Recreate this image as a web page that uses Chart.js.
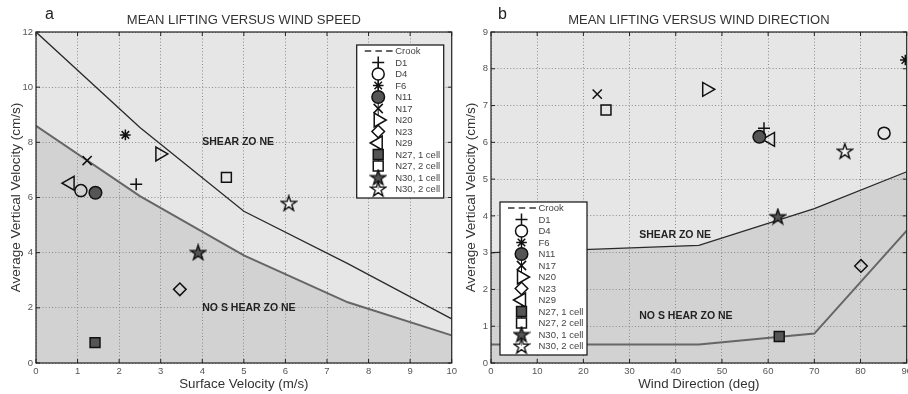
<!DOCTYPE html>
<html>
<head>
<meta charset="utf-8">
<script src="https://cdn.jsdelivr.net/npm/chart.js@4/dist/chart.umd.min.js"></script>
<style>
  html, body { margin: 0; padding: 0; background: #fff; overflow: hidden; width: 908px; height: 394px; }
  .panel { position: absolute; top: 0; width: 460px; height: 394px; }
  #panelA { left: 0; }
  #panelB { left: 455px; }
</style>
</head>
<body>
<div class="panel" id="panelA"><canvas id="speedChart" width="460" height="394"></canvas></div>
<div class="panel" id="panelB"><canvas id="directionChart" width="460" height="394"></canvas></div>
<script>
// ---------- storm cases ----------
const caseNames = ['D1', 'D4', 'F6', 'N11', 'N17', 'N20', 'N23', 'N29',
                   'N27, 1 cell', 'N27, 2 cell', 'N30, 1 cell', 'N30, 2 cell'];

// panel a: surface velocity (m/s) vs mean lifting (cm/s)
const surfaceVelocity = [2.41, 1.08, 2.15, 1.43, 1.23, 2.98, 3.46, 0.82, 1.42, 4.58, 3.90, 6.08];
const liftBySpeed     = [6.48, 6.25, 8.27, 6.17, 7.34, 7.58, 2.67, 6.52, 0.74, 6.73, 4.01, 5.79];

// panel b: wind direction (deg) vs mean lifting (cm/s)
const windDirection   = [59.1, 85.1, 89.7, 58.1, 23.0, 46.7, 80.1, 60.5, 62.4, 24.9, 62.1, 76.6];
const liftByDirection = [6.38, 6.25, 8.24, 6.15, 7.31, 7.44, 2.64, 6.08, 0.72, 6.88, 3.98, 5.76];

// zone boundaries, panel a
const speedBoundaryX   = [0, 2.5, 5, 7.5, 10];
const speedShearLine   = [12, 8.54, 5.5, 3.6, 1.6];
const speedNoShearLine = [8.6, 6.05, 3.9, 2.2, 1.0];

// zone boundaries, panel b
const dirShearX       = [0, 20, 45, 70, 90];
const dirShearLine    = [3.0, 3.08, 3.2, 4.2, 5.2];
const dirNoShearX     = [0, 45, 70, 90];
const dirNoShearLine  = [0.5, 0.5, 0.8, 3.6];

// tick labels
const speedTicksX = [0, 1, 2, 3, 4, 5, 6, 7, 8, 9, 10];
const speedTicksY = [0, 2, 4, 6, 8, 10, 12];
const dirTicksX   = [0, 10, 20, 30, 40, 50, 60, 70, 80, 90];
const dirTicksY   = [0, 1, 2, 3, 4, 5, 6, 7, 8, 9];

const zoneNames = ['SHEAR ZO NE', 'NO S HEAR ZO NE'];

// ---------- styling ----------
Chart.defaults.font.family = "'Liberation Sans', Arial, Helvetica, sans-serif";

const INK = '#111';
const DARK_FILL = '#555';
const PLOT_BG = '#e6e6e6';
const ZONE_FILL = '#d2d2d2';

function pentagram(fill) {
  const c = document.createElement('canvas');
  c.width = 18; c.height = 18;
  const g = c.getContext('2d');
  g.translate(9, 9.6);
  g.beginPath();
  for (let i = 0; i < 10; i++) {
    const r = i % 2 ? 3.1 : 8;
    const a = -Math.PI / 2 + i * Math.PI / 5;
    g.lineTo(r * Math.cos(a), r * Math.sin(a));
  }
  g.closePath();
  g.fillStyle = fill;
  g.fill();
  g.lineWidth = 1.4;
  g.strokeStyle = INK;
  g.stroke();
  return c;
}

// one marker description per case, same order as caseNames
const markerLook = [
  { style: 'cross',    radius: 6,   rot: 0,   fill: 'rgba(0,0,0,0)', open: false },
  { style: 'circle',   radius: 6,   rot: 0,   fill: 'rgba(0,0,0,0)', open: true },
  { style: 'star',     radius: 5.3, rot: 0,   fill: 'rgba(0,0,0,0)', open: false },
  { style: 'circle',   radius: 6.3, rot: 0,   fill: DARK_FILL,       open: false },
  { style: 'crossRot', radius: 6.5, rot: 0,   fill: 'rgba(0,0,0,0)', open: false },
  { style: 'triangle', radius: 8,   rot: 90,  fill: 'rgba(0,0,0,0)', open: true },
  { style: 'rectRot',  radius: 6.3, rot: 0,   fill: 'rgba(0,0,0,0)', open: true },
  { style: 'triangle', radius: 8,   rot: -90, fill: 'rgba(0,0,0,0)', open: true },
  { style: 'rect',     radius: 7,   rot: 0,   fill: DARK_FILL,       open: false },
  { style: 'rect',     radius: 7,   rot: 0,   fill: 'rgba(0,0,0,0)', open: true },
  { style: pentagram(DARK_FILL),   radius: 8, rot: 0, fill: DARK_FILL, open: false },
  { style: pentagram('rgba(255,255,255,0.55)'), radius: 8, rot: 0, fill: 'rgba(0,0,0,0)', open: false }
];

function caseDatasets(xs, ys) {
  return caseNames.map((name, i) => {
    const m = markerLook[i];
    return {
      label: name,
      inLegend: true,
      legendOpen: m.open,
      data: [{ x: xs[i], y: ys[i] }],
      pointStyle: m.style,
      pointRadius: m.radius,
      pointRotation: m.rot,
      pointBorderWidth: 1.5,
      pointBorderColor: INK,
      pointBackgroundColor: m.fill,
      borderColor: INK,
      backgroundColor: m.fill,
      showLine: false
    };
  });
}

function boundary(xs, ys, color, width, fill) {
  return {
    label: '',
    data: xs.map((x, i) => ({ x: x, y: ys[i] })),
    showLine: true,
    borderColor: color,
    borderWidth: width,
    pointRadius: 0,
    tension: 0,
    fill: fill ? 'origin' : false,
    backgroundColor: fill || 'rgba(0,0,0,0)',
    order: 20
  };
}

const crookEntry = {
  label: 'Crook', inLegend: true, isLine: true, data: [], showLine: true,
  borderColor: '#333', borderWidth: 1.3, borderDash: [6.5, 4.2], pointRadius: 0
};

// ---------- drawing helpers ----------
const framePlugin = {
  id: 'frame',
  beforeDraw(chart) {
    const { ctx, chartArea: a } = chart;
    ctx.save();
    ctx.globalCompositeOperation = 'destination-over';
    ctx.fillStyle = PLOT_BG;
    ctx.fillRect(a.left, a.top, a.right - a.left, a.bottom - a.top);
    ctx.restore();
  },
  afterDraw(chart, args, opts) {
    const { ctx, chartArea: a, scales } = chart;
    ctx.save();
    // axes box
    ctx.strokeStyle = '#222';
    ctx.lineWidth = 1.2;
    ctx.strokeRect(a.left, a.top, a.right - a.left, a.bottom - a.top);
    // inward tick marks on all four sides
    ctx.lineWidth = 1;
    ctx.beginPath();
    scales.x.ticks.forEach(t => {
      const px = scales.x.getPixelForValue(t.value);
      ctx.moveTo(px, a.bottom); ctx.lineTo(px, a.bottom - 4);
      ctx.moveTo(px, a.top);    ctx.lineTo(px, a.top + 4);
    });
    scales.y.ticks.forEach(t => {
      const py = scales.y.getPixelForValue(t.value);
      ctx.moveTo(a.left, py);  ctx.lineTo(a.left + 4, py);
      ctx.moveTo(a.right, py); ctx.lineTo(a.right - 4, py);
    });
    ctx.stroke();

    // zone names
    ctx.fillStyle = '#222';
    ctx.font = "bold 10.5px 'Liberation Sans', Arial, sans-serif";
    ctx.textAlign = 'left';
    ctx.textBaseline = 'middle';
    opts.zones.forEach(z => {
      ctx.fillText(z.text, scales.x.getPixelForValue(z.x), scales.y.getPixelForValue(z.y));
    });

    // panel letter and title
    ctx.fillStyle = '#222';
    ctx.font = "16px 'Liberation Sans', Arial, sans-serif";
    ctx.textBaseline = 'alphabetic';
    ctx.fillText(opts.letter, opts.letterX, 18.5);
    ctx.fillStyle = '#333';
    ctx.font = "13px 'Liberation Sans', Arial, sans-serif";
    ctx.textAlign = 'center';
    ctx.fillText(opts.title, (a.left + a.right) / 2, 24);
    ctx.restore();

    drawLegend(chart, opts.legend);
  }
};

function drawLegend(chart, pos) {
  const { ctx, chartArea: a } = chart;
  const entries = chart.data.datasets.filter(d => d.inLegend);
  const w = 87, rowH = 11.5, h = 12 + rowH * (entries.length - 1) + 3;
  const left = pos.corner === 'topRight' ? a.right - pos.dx - w : a.left + pos.dx;
  const top = pos.corner === 'topRight' ? a.top + pos.dy : a.bottom - pos.dy - h;
  const mx = left + 21.5;
  ctx.save();
  ctx.fillStyle = '#fff';
  ctx.fillRect(left, top, w, h);
  ctx.strokeStyle = '#111';
  ctx.lineWidth = 1.2;
  ctx.strokeRect(left, top, w, h);

  const rowY = i => top + 6 + i * rowH;
  // stem that runs through the marker column
  const firstMarker = entries.findIndex(e => !e.isLine);
  ctx.beginPath();
  ctx.lineWidth = 1;
  ctx.strokeStyle = INK;
  ctx.moveTo(mx, rowY(firstMarker));
  ctx.lineTo(mx, rowY(entries.length - 1));
  ctx.stroke();

  entries.forEach((e, i) => {
    const y = rowY(i);
    if (e.isLine) {
      ctx.save();
      ctx.strokeStyle = e.borderColor;
      ctx.lineWidth = e.borderWidth;
      ctx.setLineDash(e.borderDash);
      ctx.beginPath();
      ctx.moveTo(left + 8, y);
      ctx.lineTo(left + 36, y);
      ctx.stroke();
      ctx.restore();
    } else {
      ctx.save();
      ctx.fillStyle = e.legendOpen ? '#fff' : e.pointBackgroundColor;
      ctx.strokeStyle = e.pointBorderColor;
      ctx.lineWidth = e.pointBorderWidth;
      Chart.helpers.drawPoint(ctx, {
        pointStyle: e.pointStyle, rotation: e.pointRotation,
        radius: e.pointRadius, borderWidth: e.pointBorderWidth
      }, mx, y);
      ctx.restore();
    }
    ctx.fillStyle = '#444';
    ctx.font = "9.5px 'Liberation Sans', Arial, sans-serif";
    ctx.textAlign = 'left';
    ctx.textBaseline = 'middle';
    ctx.fillText(e.label, left + 38.5, y + 0.5);
  });
  ctx.restore();
}

function axisSet(xMax, yMax, xTicks, yTicks, xTitle) {
  const tickFont = { size: 9.5 };
  const gridStyle = { color: '#8a8a8a', lineWidth: 1, drawTicks: false };
  const dotted = { display: false, dash: [1, 2.2] };
  return {
    x: {
      type: 'linear', min: 0, max: xMax,
      afterBuildTicks: s => { s.ticks = xTicks.map(v => ({ value: v })); },
      afterFit: s => { s.height = 31; },
      ticks: { font: tickFont, color: '#555', padding: 3, maxRotation: 0, autoSkip: false },
      grid: gridStyle, border: dotted,
      title: { display: true, text: xTitle, color: '#333', font: { size: 13.3 }, padding: { top: 0, bottom: 2 } }
    },
    y: {
      type: 'linear', min: 0, max: yMax,
      afterBuildTicks: s => { s.ticks = yTicks.map(v => ({ value: v })); },
      afterFit: s => { s.width = 36; },
      ticks: { font: tickFont, color: '#555', padding: 3, autoSkip: false },
      grid: gridStyle, border: dotted,
      title: { display: true, text: 'Average Vertical Velocity (cm/s)', color: '#333', font: { size: 13.5 }, padding: { top: 8.5, bottom: 0 } }
    }
  };
}

function makeChart(id, datasets, scales, frameOpts) {
  return new Chart(document.getElementById(id), {
    type: 'scatter',
    data: { datasets: datasets },
    options: {
      responsive: false,
      animation: false,
      events: [],
      layout: { padding: { left: 0, right: 3, top: 32, bottom: 0 }, autoPadding: false },
      scales: scales,
      plugins: {
        legend: { display: false },
        tooltip: { enabled: false },
        filler: { drawTime: 'beforeDraw' },
        frame: frameOpts
      }
    },
    plugins: [framePlugin]
  });
}

// panel a
makeChart('speedChart',
  [crookEntry,
   ...caseDatasets(surfaceVelocity, liftBySpeed),
   boundary(speedBoundaryX, speedShearLine, '#2a2a2a', 1.3, null),
   boundary(speedBoundaryX, speedNoShearLine, '#666', 2, ZONE_FILL)],
  axisSet(10, 12, speedTicksX, speedTicksY, 'Surface Velocity (m/s)'),
  {
    letter: 'a', letterX: 45, title: 'MEAN LIFTING VERSUS WIND SPEED',
    zones: [{ text: zoneNames[0], x: 4.0, y: 8.0 }, { text: zoneNames[1], x: 4.0, y: 1.98 }],
    legend: { corner: 'topRight', dx: 8, dy: 13 }
  });

// panel b
makeChart('directionChart',
  [Object.assign({}, crookEntry),
   ...caseDatasets(windDirection, liftByDirection),
   boundary(dirShearX, dirShearLine, '#2a2a2a', 1.3, ZONE_FILL),
   boundary(dirNoShearX, dirNoShearLine, '#666', 2, null)],
  axisSet(90, 9, dirTicksX, dirTicksY, 'Wind Direction (deg)'),
  {
    letter: 'b', letterX: 43, title: 'MEAN LIFTING VERSUS WIND DIRECTION',
    zones: [{ text: zoneNames[0], x: 32.1, y: 3.48 }, { text: zoneNames[1], x: 32.1, y: 1.28 }],
    legend: { corner: 'bottomLeft', dx: 9, dy: 8 }
  });
</script>
</body>
</html>
